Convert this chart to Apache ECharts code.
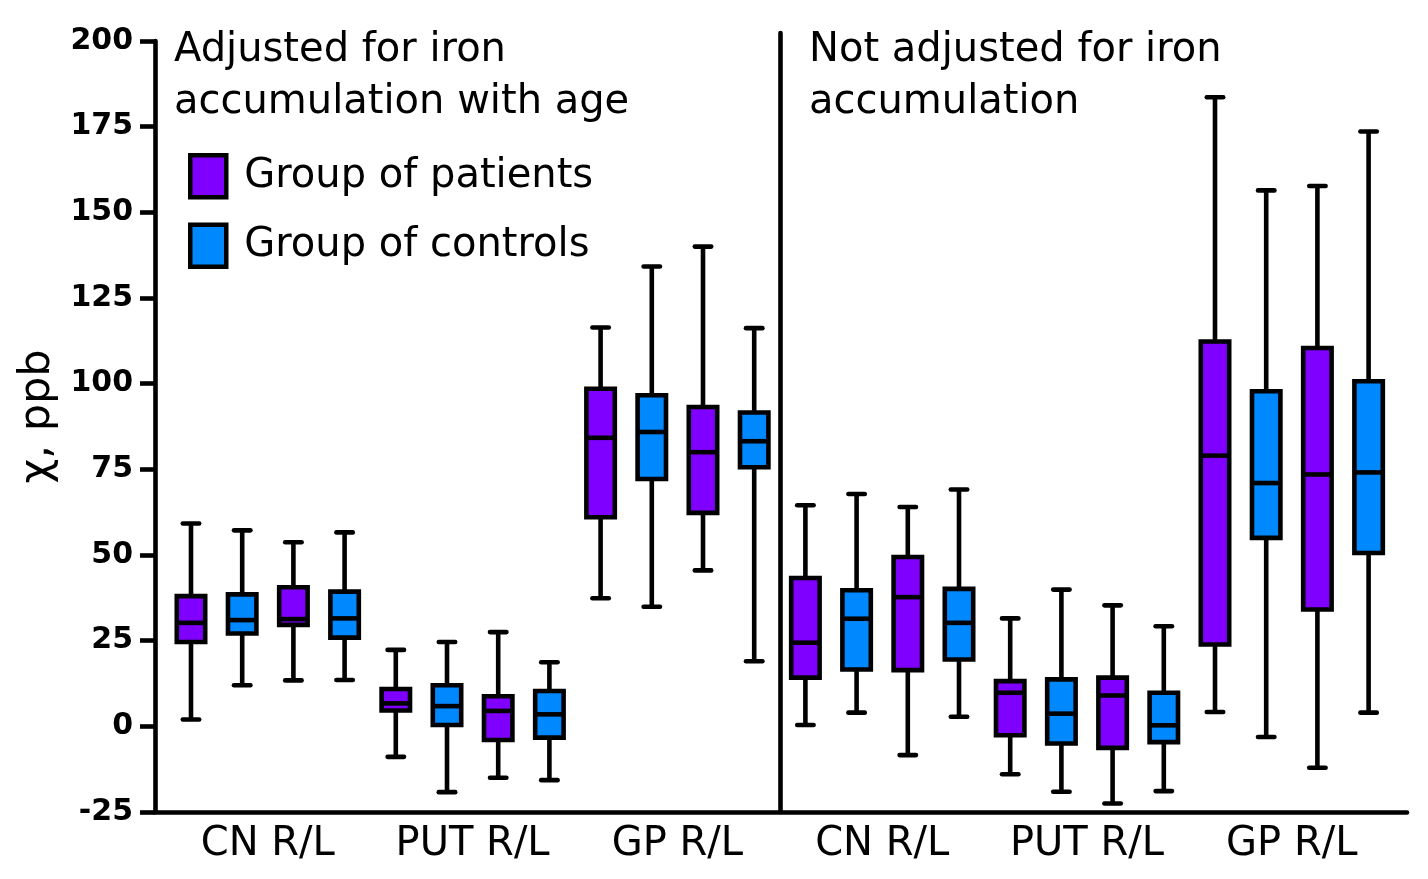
<!DOCTYPE html>
<html>
<head>
<meta charset="utf-8">
<style>
  html, body { margin: 0; padding: 0; background: #fff; }
  #chart { width: 1428px; height: 879px; }
</style>
<script src="https://cdn.jsdelivr.net/npm/echarts@6/dist/echarts.min.js"></script>
</head>
<body>
<div id="chart"></div>
<script>
// ---- data ----
const regions = ['CN R/L', 'PUT R/L', 'GP R/L'];
const panelTitles = ['Adjusted for iron\naccumulation with age', 'Not adjusted for iron\naccumulation'];
const groupNames = ['Group of patients', 'Group of controls'];
const groupColors = ['#8000ff', '#0088ff'];
const yAxisName = 'χ, ppb';

// rows: CN R, CN L, PUT R, PUT L, GP R, GP L ; each row [min, Q1, median, Q3, max]
const patientsAdjusted = [
  [2.0, 24.6, 30.2, 38.0, 59.2],
  [13.4, 29.6, 31.3, 40.6, 53.7],
  [-8.9, 4.6, 6.7, 10.9, 22.3],
  [-15.0, -4.0, 4.5, 8.8, 27.5],
  [37.4, 61.0, 84.2, 98.5, 116.4],
  [45.5, 62.3, 80.0, 93.2, 140.0]
];
const controlsAdjusted = [
  [12.0, 27.1, 31.0, 38.5, 57.2],
  [13.5, 25.9, 31.5, 39.3, 56.6],
  [-19.2, 0.4, 5.9, 12.0, 24.6],
  [-15.7, -3.3, 3.5, 10.3, 18.7],
  [34.9, 72.2, 85.9, 96.6, 134.2],
  [19.0, 75.6, 83.2, 91.6, 116.2]
];
const patientsUnadjusted = [
  [0.4, 14.2, 24.4, 43.3, 64.5],
  [-8.4, 16.4, 37.7, 49.4, 64.0],
  [-14.0, -2.6, 9.8, 13.2, 31.5],
  [-22.5, -6.3, 9.0, 14.2, 35.3],
  [4.2, 23.9, 79.0, 112.3, 183.6],
  [-12.1, 34.1, 73.5, 110.4, 157.7]
];
const controlsUnadjusted = [
  [4.0, 16.6, 31.4, 39.7, 67.8],
  [2.8, 19.5, 30.2, 40.1, 69.1],
  [-19.1, -5.0, 3.7, 13.7, 39.9],
  [-18.9, -4.6, 0.3, 9.8, 29.2],
  [-3.1, 55.0, 71.0, 97.8, 156.4],
  [4.0, 50.6, 74.1, 100.7, 173.6]
];
const yMin = -25, yMax = 200, yInterval = 25;

// ---- build series data: box slot = panel*12 + row*2 + group ----
const panelsData = [
  [patientsAdjusted, controlsAdjusted],
  [patientsUnadjusted, controlsUnadjusted]
];
const boxesPerPanel = regions.length * 4;
function buildGroup(g) {
  const out = [];
  panelsData.forEach((panel, p) => {
    panel[g].forEach((row, k) => {
      out.push([p * boxesPerPanel + k * 2 + g].concat(row));
    });
  });
  return out;
}
const groupLabelValues = [];
panelTitles.forEach((t, p) => regions.forEach((r, ri) => groupLabelValues.push(p * boxesPerPanel + ri * 4 + 1.5)));

const FONT = 'DejaVu Sans';
const LW = 4.6;

function renderBox(params, api) {
  const xi = api.value(0);
  const pMin = api.coord([xi, api.value(1)]);
  const yQ1 = api.coord([xi, api.value(2)])[1];
  const yMed = api.coord([xi, api.value(3)])[1];
  const yQ3 = api.coord([xi, api.value(4)])[1];
  const yMx = api.coord([xi, api.value(5)])[1];
  const cx = pMin[0];
  const unit = api.size([1, 0])[0];
  const bw = unit * 0.555;
  const cw = unit * 0.32;
  const color = api.visual('color');
  const ls = { stroke: '#000', lineWidth: LW, lineCap: 'round' };
  const ws = { stroke: '#000', lineWidth: LW };
  return {
    type: 'group',
    children: [
      { type: 'line', shape: { x1: cx, y1: yMx, x2: cx, y2: yQ3 }, style: ws },
      { type: 'line', shape: { x1: cx, y1: yQ1, x2: cx, y2: pMin[1] }, style: ws },
      { type: 'line', shape: { x1: cx - cw / 2, y1: yMx, x2: cx + cw / 2, y2: yMx }, style: ls },
      { type: 'line', shape: { x1: cx - cw / 2, y1: pMin[1], x2: cx + cw / 2, y2: pMin[1] }, style: ls },
      { type: 'rect', shape: { x: cx - bw / 2, y: yQ3, width: bw, height: yQ1 - yQ3 },
        style: { fill: color, stroke: '#000', lineWidth: LW } },
      { type: 'line', shape: { x1: cx - bw / 2, y1: yMed, x2: cx + bw / 2, y2: yMed }, style: ws }
    ]
  };
}

const chart = echarts.init(document.getElementById('chart'), null, { renderer: 'canvas' });

const option = {
  backgroundColor: '#fff',
  animation: false,
  title: panelTitles.map((t, i) => ({
    text: t,
    left: i === 0 ? 174 : 809,
    top: 25,
    padding: 0,
    textStyle: { fontSize: 40, fontWeight: 'normal', lineHeight: 52, color: '#000', fontFamily: FONT }
  })),
  legend: {
    orient: 'vertical',
    left: 188,
    top: 153,
    padding: 0,
    itemWidth: 36,
    itemHeight: 42,
    itemGap: 23,
    selectedMode: false,
    textStyle: { fontSize: 40, lineHeight: 42, color: '#000', fontFamily: FONT, padding: [0, 0, 0, 13] },
    data: groupNames.map((n, i) => ({
      name: n,
      icon: 'rect',
      itemStyle: { color: groupColors[i], borderColor: '#000', borderWidth: 4.5 }
    }))
  },
  grid: [
    { left: 155, top: 41, width: 1252, height: 771, containLabel: false },
    { left: 779.8, top: 33, width: 10, height: 779, containLabel: false }
  ],
  xAxis: [
    {
      gridIndex: 0,
      type: 'value',
      min: -0.703,
      max: 23.75,
      axisLine: { show: true, onZero: false, lineStyle: { color: '#000', width: LW } },
      axisTick: { show: false },
      splitLine: { show: false },
      axisLabel: {
        customValues: groupLabelValues,
        formatter: v => regions[Math.round((v - 1.5) / 4) % regions.length],
        fontSize: 40,
        color: '#000',
        fontFamily: FONT,
        margin: 13
      }
    },
    {
      gridIndex: 1, type: 'value', min: 0, max: 1,
      axisLine: { show: false, onZero: false }, axisTick: { show: false }, axisLabel: { show: false }, splitLine: { show: false }
    }
  ],
  yAxis: [
    {
      gridIndex: 0,
      type: 'value',
      min: yMin,
      max: yMax,
      interval: yInterval,
      name: yAxisName,
      nameLocation: 'middle',
      nameRotate: 90,
      nameGap: 73,
      nameTextStyle: { fontSize: 43, color: '#000', fontFamily: FONT, padding: [0, 0, 0, 20] },
      axisLine: { show: true, onZero: false, lineStyle: { color: '#000', width: LW } },
      axisTick: { show: true, inside: false, length: 15, lineStyle: { color: '#000', width: LW } },
      axisLabel: { fontSize: 30, fontWeight: 'bold', color: '#000', fontFamily: FONT, margin: 22 },
      splitLine: { show: false }
    },
    {
      gridIndex: 1,
      type: 'value',
      min: 0,
      max: 1,
      axisLine: { show: true, onZero: false, lineStyle: { color: '#000', width: LW } },
      axisTick: { show: false },
      axisLabel: { show: false },
      splitLine: { show: false }
    }
  ],
  series: groupNames.map((n, g) => ({
    name: n,
    type: 'custom',
    xAxisIndex: 0,
    yAxisIndex: 0,
    renderItem: renderBox,
    itemStyle: { color: groupColors[g] },
    encode: { x: 0, y: [1, 2, 3, 4, 5] },
    data: buildGroup(g),
    silent: true
  }))
};

chart.setOption(option);
</script>
</body>
</html>
